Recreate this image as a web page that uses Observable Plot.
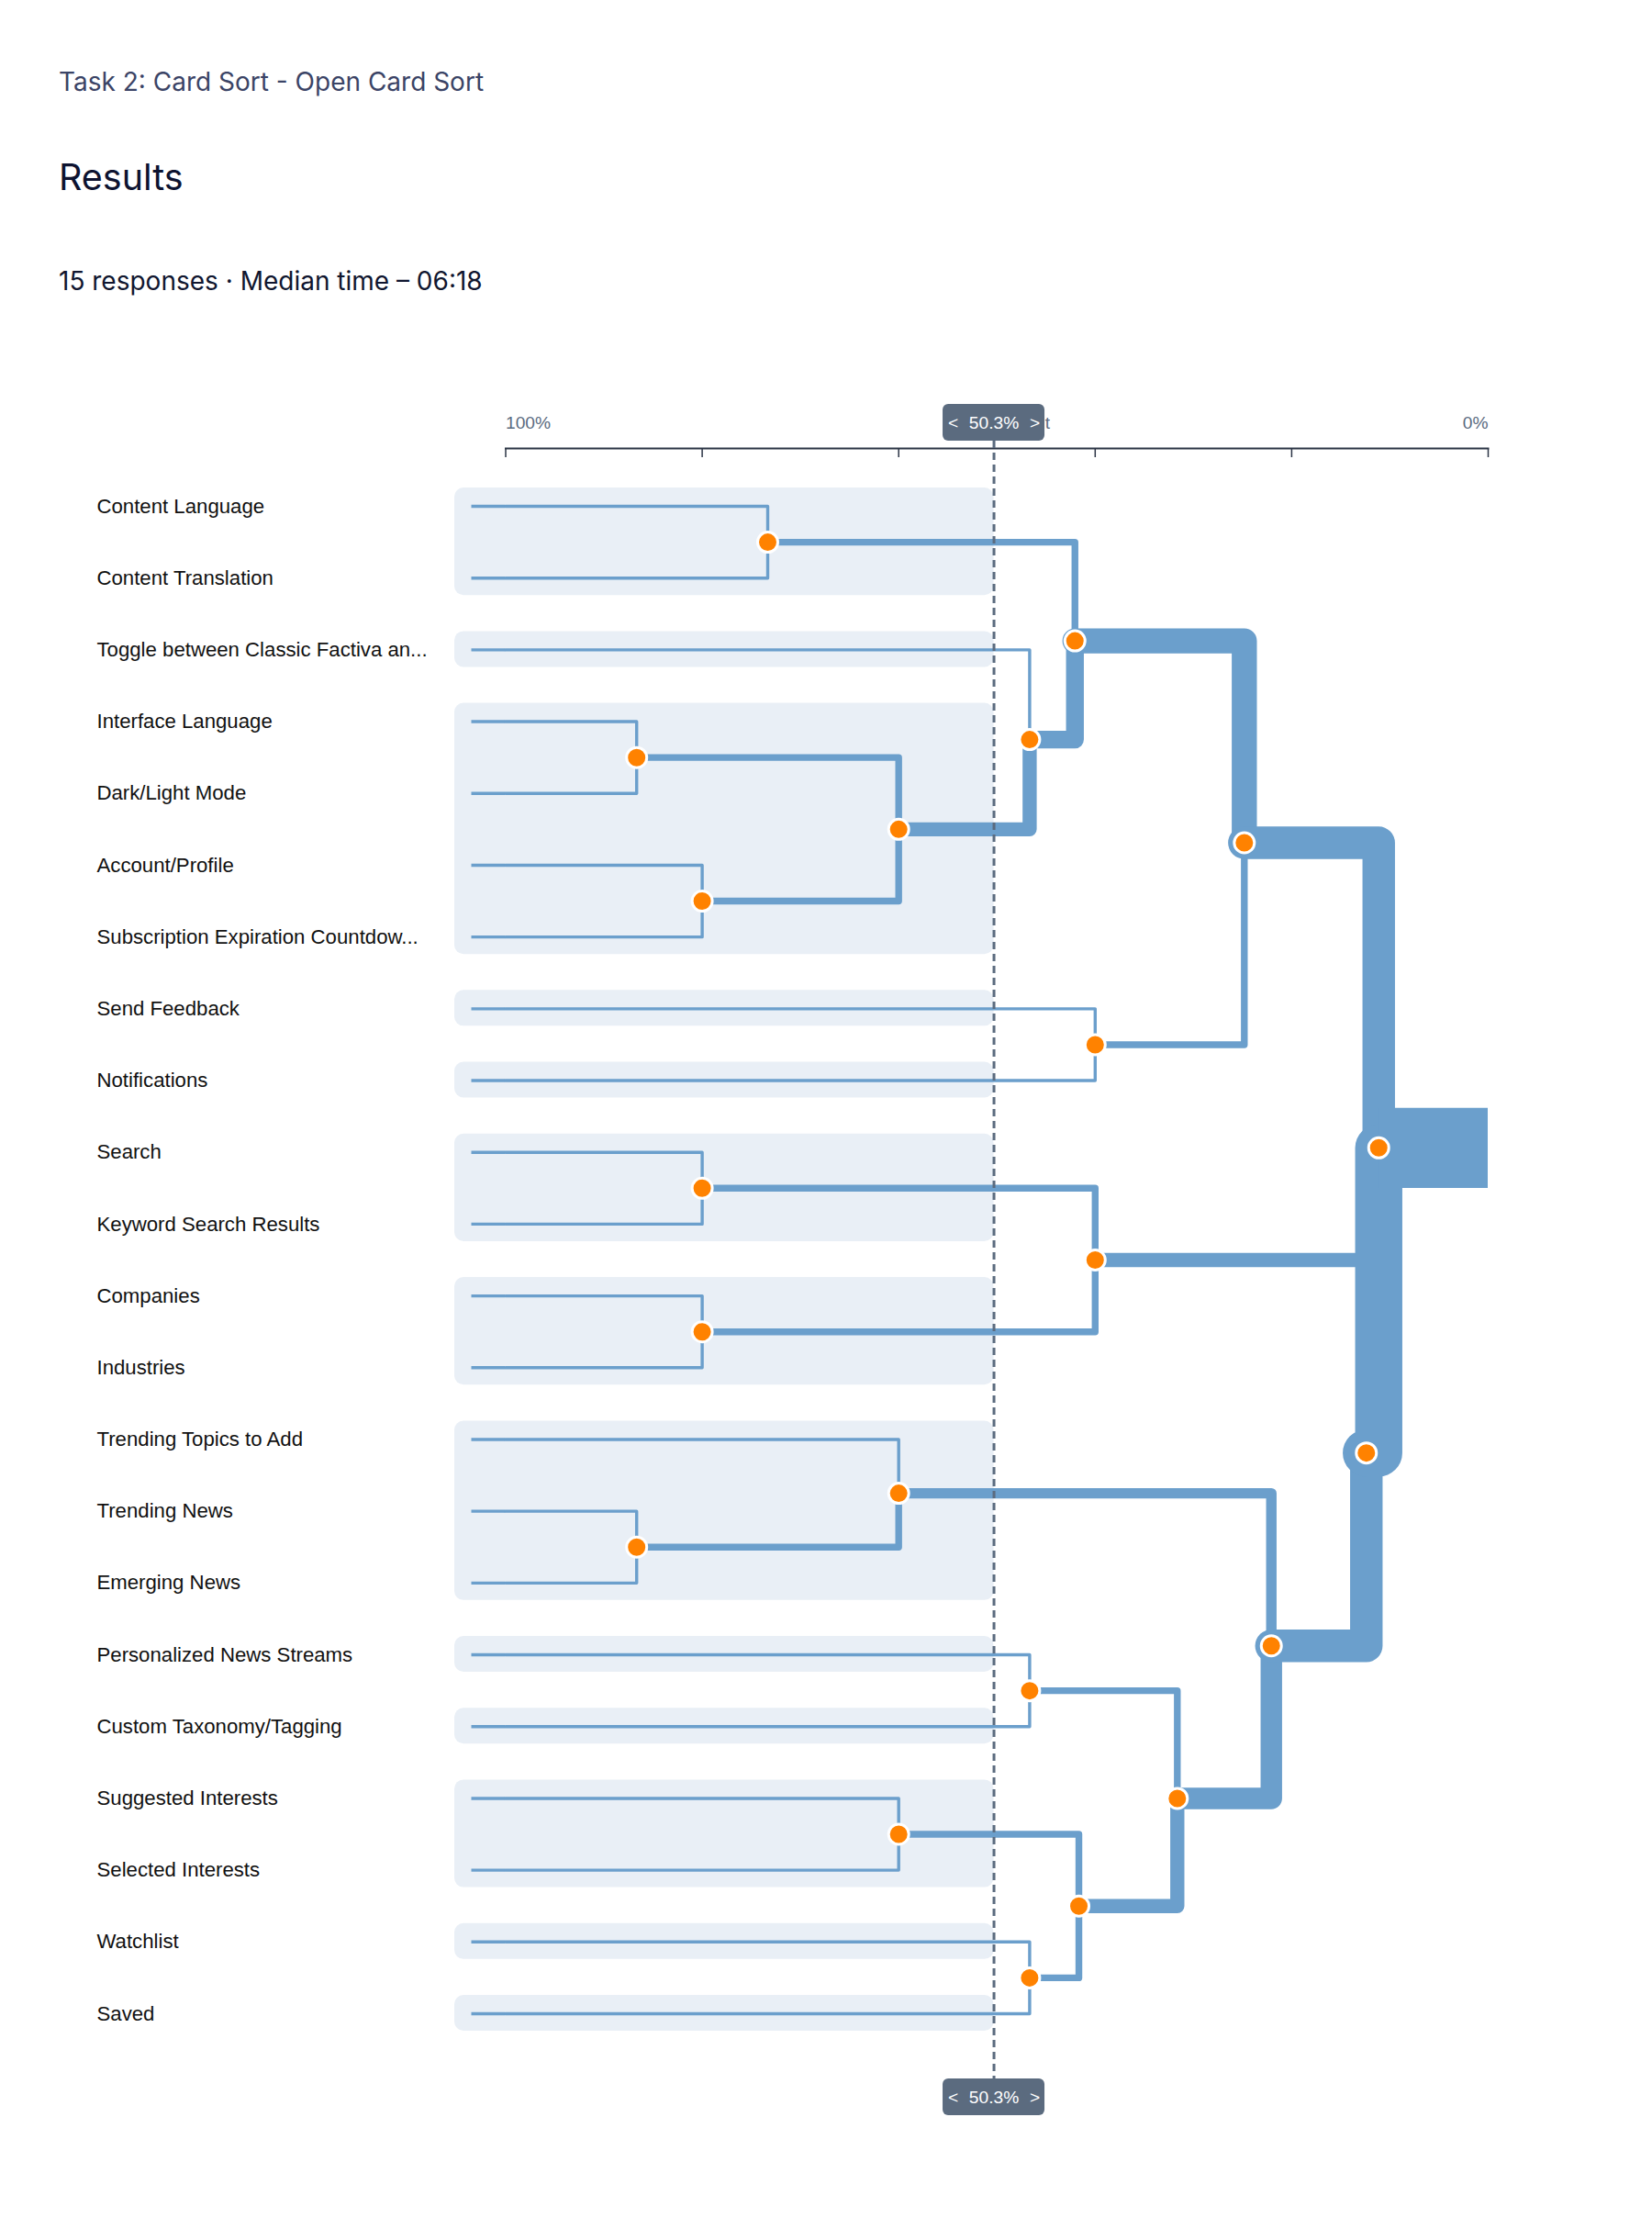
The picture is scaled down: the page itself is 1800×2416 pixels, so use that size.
<!DOCTYPE html>
<html><head><meta charset="utf-8">
<script src="https://cdn.jsdelivr.net/npm/d3@7"></script>
<script src="https://cdn.jsdelivr.net/npm/@observablehq/plot@0.6"></script>
<style>
html,body{margin:0;padding:0;background:#fff;}
#page{width:1800px;}
#header{position:relative;height:400px;width:1800px;}
#header div{position:absolute;left:64px;white-space:nowrap;font-family:Inter,"Noto Sans",sans-serif;line-height:1;}
#header .task{top:75px;font-size:28px;color:#3b4466;}
#header .results{top:174px;font-size:39.5px;color:#0d1330;}
#header .meta{top:292px;font-size:28px;color:#10162f;}
#chart svg{display:block;}
</style></head>
<body>
<div id="page">
  <div id="header">
    <div class="task">Task 2: Card Sort - Open Card Sort</div>
    <div class="results">Results</div>
    <div class="meta">15 responses · Median time – 06:18</div>
  </div>
  <div id="chart"></div>
</div>
<script>
// ---------- data ----------
const cards = [
  "Content Language","Content Translation","Toggle between Classic Factiva an...",
  "Interface Language","Dark/Light Mode","Account/Profile","Subscription Expiration Countdow...",
  "Send Feedback","Notifications","Search","Keyword Search Results","Companies","Industries",
  "Trending Topics to Add","Trending News","Emerging News","Personalized News Streams",
  "Custom Taxonomy/Tagging","Suggested Interests","Selected Interests","Watchlist","Saved"
];
const mergeIds = ["A","B","C","D","E","F","G","H","I","J","K","L","M","N","O","P","Q","R","S","T","U"];
const mergeLeft = [
  "Content Language","Interface Language","Account/Profile","B","Toggle between Classic Factiva an...","A",
  "Send Feedback","F","Search","Companies","I","Trending News","Trending Topics to Add",
  "Personalized News Streams","Suggested Interests","Watchlist","O","N","M","K","H"
];
const mergeRight = [
  "Content Translation","Dark/Light Mode","Subscription Expiration Countdow...","C","D","E",
  "Notifications","G","Keyword Search Results","Industries","J","Emerging News","L",
  "Custom Taxonomy/Tagging","Selected Interests","Saved","P","Q","R","S","T"
];
const mergeAgreement = [73.33, 86.67, 80, 60, 46.67, 42.06, 40, 24.82, 80, 80, 40, 86.67, 60, 46.67, 60, 46.67, 41.66, 31.64, 22.07, 12.4, 11.14];
const cutoff = 50.3;
const axisTicks = [100, 80, 60, 40, 20, 0];
const axisStartLabel = "100%";
const axisEndLabel = "0%";
const cutLabel = "Cut";

// ---------- build tree ----------
const nodes = new Map();
cards.forEach((c, i) => nodes.set(c, {id: c, x: 100, y: i, n: 1, leaf: true, first: i, last: i}));
const internal = [];
mergeIds.forEach((id, k) => {
  const kids = [nodes.get(mergeLeft[k]), nodes.get(mergeRight[k])];
  const node = {
    id, x: mergeAgreement[k], y: d3.mean(kids, d => d.y), n: d3.sum(kids, d => d.n), kids, leaf: false,
    first: d3.min(kids, d => d.first), last: d3.max(kids, d => d.last)
  };
  nodes.set(id, node);
  internal.push(node);
});
const root = internal[internal.length - 1];

const elbows = [];
internal.forEach(p => p.kids.forEach(c => {
  const link = p.id + "-" + c.id;
  elbows.push({link, x: c.x, y: c.y, n: c.n});
  elbows.push({link, x: p.x, y: c.y, n: c.n});
  elbows.push({link, x: p.x, y: p.y, n: c.n});
}));

function clustersOf(node) {
  if (node.leaf || node.x >= cutoff) return [{first: node.first, last: node.last}];
  return node.kids.flatMap(clustersOf);
}
const clusters = clustersOf(root);

const widthOf = n => 4 * n - 0.6;
const lineColor = "#6b9fcc";
const badgeColor = "#5b6b7f";
const badgeText = {fill: "#fff", fontSize: 19.2, lineAnchor: "middle"};

const plot = Plot.plot({
  width: 1800,
  height: 2016,
  marginTop: 88,
  marginBottom: 112,
  marginLeft: 550.5,
  marginRight: 179,
  style: {fontFamily: "'Liberation Sans', Arial, sans-serif", background: "#fff"},
  x: {domain: [100, 0]},
  y: {type: "linear", domain: [0, cards.length - 1], range: [151, 1793], axis: null},
  marks: [
    Plot.rect(clusters, {x1: 100, x2: cutoff, y1: "first", y2: "last", insetLeft: -55.5, insetTop: -20, insetBottom: -19, rx: 10, fill: "#e9eff6"}),
    Plot.ruleY(cards, {y: (d, i) => i, x1: 100, x2: 100, insetLeft: -37, stroke: lineColor, strokeWidth: widthOf(1)}),
    Plot.line(elbows, {x: "x", y: "y", z: "link", stroke: lineColor, strokeWidth: d => widthOf(d.n), strokeLinejoin: "round", curve: "linear"}),
    Plot.ruleY([root], {y: "y", x1: "x", x2: 0, stroke: lineColor, strokeWidth: widthOf(root.n)}),
    Plot.frame({anchor: "top", stroke: "#2b3445", strokeWidth: 2}),
    Plot.axisX({anchor: "top", ticks: axisTicks, tickSize: -9, tickFormat: () => "", stroke: "#2b3445", strokeWidth: 1.5, label: null}),
    Plot.text([100], {x: d => d, text: () => axisStartLabel, frameAnchor: "top", lineAnchor: "middle", dy: -28, textAnchor: "start", fill: badgeColor, fontSize: 19.2}),
    Plot.text([0], {x: d => d, text: () => axisEndLabel, frameAnchor: "top", lineAnchor: "middle", dy: -28, textAnchor: "end", fill: badgeColor, fontSize: 19.2}),
    Plot.text([cutoff], {x: d => d, text: () => cutLabel, frameAnchor: "top", lineAnchor: "middle", dy: -28, dx: 61, textAnchor: "end", fill: badgeColor, fontSize: 19.2}),
    Plot.ruleX([cutoff], {x: d => d, stroke: badgeColor, strokeWidth: 3, strokeDasharray: "8,5", insetTop: -8, insetBottom: 40}),
    Plot.dot(internal, {x: "x", y: "y", r: 11, fill: "#ff8200", stroke: "#fff", strokeWidth: 3}),
    Plot.text(cards, {y: (d, i) => i, text: d => d, frameAnchor: "left", dx: -445.5, textAnchor: "start", fill: "#111", fontSize: 22.2}),
    // top badge
    Plot.rect([cutoff], {x1: d => d, x2: d => d, insetLeft: -55.5, insetRight: -55.5, insetTop: -48, insetBottom: 1824, rx: 6, fill: badgeColor}),
    Plot.text([cutoff], {x: d => d, text: d => d + "%", frameAnchor: "top", dy: -28, ...badgeText}),
    Plot.text([cutoff], {x: d => d, text: () => "<", frameAnchor: "top", dy: -28, dx: -44.5, ...badgeText}),
    Plot.text([cutoff], {x: d => d, text: () => ">", frameAnchor: "top", dy: -28, dx: 44.5, ...badgeText}),
    // bottom badge
    Plot.rect([cutoff], {x1: d => d, x2: d => d, insetLeft: -55.5, insetRight: -55.5, insetTop: 1776, insetBottom: 0, rx: 6, fill: badgeColor}),
    Plot.text([cutoff], {x: d => d, text: d => d + "%", frameAnchor: "bottom", dy: -20, ...badgeText}),
    Plot.text([cutoff], {x: d => d, text: () => "<", frameAnchor: "bottom", dy: -20, dx: -44.5, ...badgeText}),
    Plot.text([cutoff], {x: d => d, text: () => ">", frameAnchor: "bottom", dy: -20, dx: 44.5, ...badgeText})
  ]
});
document.getElementById("chart").appendChild(plot);
</script>
</body></html>
